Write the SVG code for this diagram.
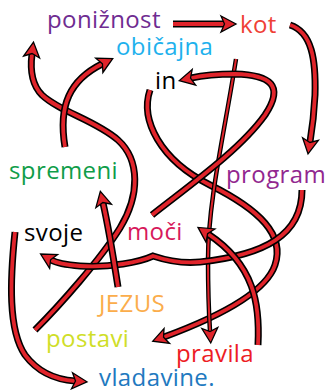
<svg xmlns="http://www.w3.org/2000/svg" width="329" height="390" viewBox="0 0 329 390">
<style>
text{font-family:"Open Sans","Noto Sans",sans-serif;font-size:24px;letter-spacing:0.4px}
.o{fill:none;stroke:#000;stroke-width:7;stroke-linecap:butt}
.i{fill:none;stroke:#e0242b;stroke-width:3.8;stroke-linecap:butt;marker-end:url(#ah)}
.o2{fill:none;stroke:#000;stroke-width:4.5}
.i2{fill:none;stroke:#e0242b;stroke-width:2;marker-end:url(#ah)}
</style>
<defs>
<marker id="ah" markerUnits="userSpaceOnUse" viewBox="-5 -10 20 20" markerWidth="20" markerHeight="20" refX="0" refY="0" orient="auto">
<path d="M-3,-8 L12,0 L-3,8 L0.5,0 Z" fill="#e0242b" stroke="#000" stroke-width="1.3" stroke-linejoin="miter"/>
</marker>
</defs>
<rect width="329" height="390" fill="#fff"/>
<g id="connectors">
<path class="o" d="M35,330 C60,305 100,260 120,228 C140,195 140,160 118,140 C95,120 60,112 42,95 C32,85 30,70 32,54"/>
<path class="i" d="M35,330 C60,305 100,260 120,228 C140,195 140,160 118,140 C95,120 60,112 42,95 C32,85 30,70 32,54"/>
<path class="o" d="M65,147 C58,105 70,80 102,64"/>
<path class="i" d="M65,147 C58,105 70,80 102,64"/>
<path class="o" d="M173,24 L224,24"/>
<path class="i" d="M173,24 L224,24"/>
<path class="o" d="M290,25 C312,32 316,60 315,95 C314,115 312,130 310,142"/>
<path class="i" d="M290,25 C312,32 316,60 315,95 C314,115 312,130 310,142"/>
<path class="o" d="M150,90 C140,120 160,160 210,185 C260,210 285,235 275,265 C265,295 210,320 164,337"/>
<path class="i" d="M150,90 C140,120 160,160 210,185 C260,210 285,235 275,265 C265,295 210,320 164,337"/>
<path class="o2" d="M236,59 C225,130 208,200 208,260 C208,295 209,315 210,331"/>
<path class="i2" d="M236,59 C225,130 208,200 208,260 C208,295 209,315 210,331"/>
<path class="o" d="M152,215 C190,185 240,150 265,115 C285,85 270,75 235,74 C215,74 200,76 191,78"/>
<path class="i" d="M152,215 C190,185 240,150 265,115 C285,85 270,75 235,74 C215,74 200,76 191,78"/>
<path class="o" d="M302,190 C302,235 265,255 200,262 C180,264 165,260 153,256 C140,262 110,268 80,266 C68,265 58,264 51,260"/>
<path class="i" d="M302,190 C302,235 265,255 200,262 C180,264 165,260 153,256 C140,262 110,268 80,266 C68,265 58,264 51,260"/>
<path class="o" d="M258,345 C260,305 255,265 208,234"/>
<path class="i" d="M258,345 C260,305 255,265 208,234"/>
<path class="o" d="M118,287 C113,255 108,225 103,203"/>
<path class="i" d="M118,287 C113,255 108,225 103,203"/>
<path class="o" d="M15,232 C10,280 8,330 25,355 C40,375 60,380 75,381"/>
<path class="i" d="M15,232 C10,280 8,330 25,355 C40,375 60,380 75,381"/>
</g>
<g id="n-poniznost"><text x="47" y="28" fill="#6f2c91">ponižnost</text></g>
<g id="n-kot"><text x="240" y="33" fill="#ef4136">kot</text></g>
<g id="n-obicajna"><text x="116" y="55" fill="#1eb1ed">običajna</text></g>
<g id="n-in"><text x="155" y="89" fill="#000">in</text></g>
<g id="n-program"><text x="226" y="183" fill="#92278f">program</text></g>
<g id="n-spremeni"><text x="9" y="179" fill="#0f9d49">spremeni</text></g>
<g id="n-svoje"><text x="24" y="241" fill="#000">svoje</text></g>
<g id="n-moci"><text x="127" y="240" fill="#d7195b">moči</text></g>
<g id="n-jezus"><text x="99" y="312" fill="#fbad4b">JEZUS</text></g>
<g id="n-postavi"><text x="46" y="347" fill="#cfde28">postavi</text></g>
<g id="n-pravila"><text x="176" y="362" fill="#ed1c24">pravila</text></g>
<g id="n-vladavine"><text x="99" y="386" fill="#2179c0">vladavine.</text></g>
</svg>
